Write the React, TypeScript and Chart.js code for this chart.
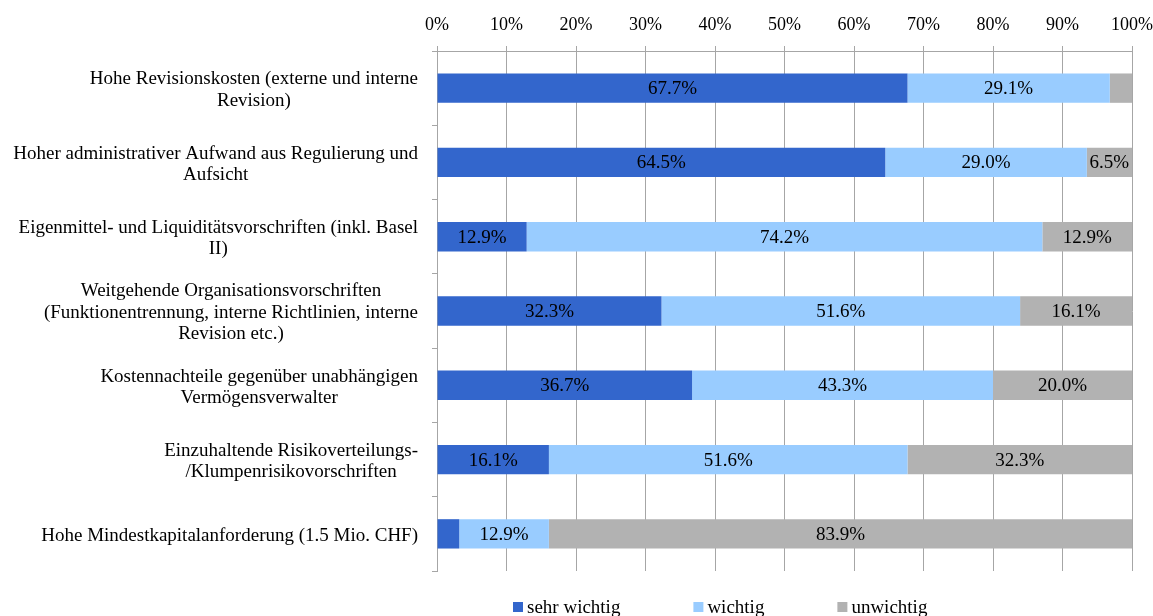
import React, { useEffect, useRef } from "react";
import { Chart, registerables } from "chart.js";

Chart.register(...registerables);

const categories: string[][] = [
  ["Hohe Revisionskosten (externe und interne", "Revision)"],
  ["Hoher administrativer Aufwand aus Regulierung und", "Aufsicht"],
  ["Eigenmittel- und Liquiditätsvorschriften (inkl. Basel", "II)"],
  ["Weitgehende Organisationsvorschriften", "(Funktionentrennung, interne Richtlinien, interne", "Revision etc.)"],
  ["Kostennachteile gegenüber unabhängigen", "Vermögensverwalter"],
  ["Einzuhaltende Risikoverteilungs-", "/Klumpenrisikovorschriften"],
  ["Hohe Mindestkapitalanforderung (1.5 Mio. CHF)"],
];

const seriesNames = ["sehr wichtig", "wichtig", "unwichtig"];
const sehrWichtig = [67.7, 64.5, 12.9, 32.3, 36.7, 16.1, 3.2];
const wichtig = [29.1, 29.0, 74.2, 51.6, 43.3, 51.6, 12.9];
const unwichtig = [3.2, 6.5, 12.9, 16.1, 20.0, 32.3, 83.9];
const seriesColors = ["#3366CC", "#99CCFF", "#B2B2B2"];
const xTicks = [0, 10, 20, 30, 40, 50, 60, 70, 80, 90, 100];

const FONT_FAMILY = "'Liberation Serif', 'Times New Roman', serif";
const TICK_SIZE = 18;
const TEXT_SIZE = 19;
const GRID = "#A6A6A6";

const customPlugin = {
  id: "customDraw",
  afterDatasetsDraw(chart: any) {
    const ctx = chart.ctx;
    ctx.save();
    ctx.font = `${TEXT_SIZE}px ${FONT_FAMILY}`;
    ctx.fillStyle = "#000";
    ctx.textAlign = "center";
    ctx.textBaseline = "middle";
    chart.data.datasets.forEach((ds: any, di: number) => {
      const meta = chart.getDatasetMeta(di);
      meta.data.forEach((bar: any, i: number) => {
        const v = ds.data[i];
        if (v < 5) return;
        const cx = (bar.x + bar.base) / 2;
        ctx.fillText(v.toFixed(1) + "%", cx, bar.y + 1);
      });
    });
    ctx.restore();
  },
  afterDraw(chart: any) {
    const ctx = chart.ctx;
    const area = chart.chartArea;
    const yScale = chart.scales.y;
    ctx.save();
    ctx.font = `${TEXT_SIZE}px ${FONT_FAMILY}`;
    ctx.fillStyle = "#000";
    ctx.textAlign = "center";
    ctx.textBaseline = "middle";
    const lh = 21.5;
    const rightEdge = area.left - 19;
    categories.forEach((lines, i) => {
      const cy = yScale.getPixelForValue(i);
      let w = 0;
      lines.forEach((l) => {
        w = Math.max(w, ctx.measureText(l).width);
      });
      const cx = rightEdge - w / 2;
      const y0 = cy - ((lines.length - 1) * lh) / 2;
      lines.forEach((l, k) => ctx.fillText(l, cx, y0 + k * lh + 2));
    });

    // legend
    ctx.textAlign = "left";
    ctx.textBaseline = "alphabetic";
    let x = area.left + 76;
    const boxTop = area.bottom + 31;
    seriesNames.forEach((name, i) => {
      ctx.fillStyle = seriesColors[i];
      ctx.fillRect(x, boxTop, 10, 10);
      ctx.fillStyle = "#000";
      ctx.fillText(name, x + 14, boxTop + 11);
      x += 14 + ctx.measureText(name).width + 73;
    });
    ctx.restore();
  },
};

export default function App() {
  const ref = useRef<HTMLCanvasElement>(null);
  useEffect(() => {
    if (!ref.current) return;
    const values = [sehrWichtig, wichtig, unwichtig];
    const chart = new Chart(ref.current, {
      type: "bar",
      data: {
        labels: categories as any,
        datasets: seriesNames.map((name, i) => ({
          label: name,
          data: values[i],
          backgroundColor: seriesColors[i],
          borderWidth: 0,
          barPercentage: 0.395,
          categoryPercentage: 1,
        })),
      },
      options: {
        indexAxis: "y",
        animation: false,
        responsive: true,
        maintainAspectRatio: false,
        layout: { padding: { left: 432, right: 0, top: 0, bottom: 45 } },
        plugins: {
          legend: { display: false },
          tooltip: { enabled: false },
        },
        scales: {
          x: {
            position: "top",
            stacked: true,
            min: 0,
            max: 100,
            afterBuildTicks: (scale: any) => {
              scale.ticks = xTicks.map((v) => ({ value: v }));
            },
            afterFit: (scale: any) => {
              scale.height = 51;
              scale.paddingLeft = 0;
              scale.paddingRight = 21;
            },
            ticks: {
              callback: (v: any) => v + "%",
              color: "#000",
              font: { family: FONT_FAMILY, size: TICK_SIZE },
              padding: 10,
              maxRotation: 0,
              autoSkip: false,
            },
            grid: { color: GRID, lineWidth: 1, tickLength: 5, drawTicks: true },
            border: { display: true, color: GRID, width: 1 },
          },
          y: {
            stacked: true,
            ticks: { display: false },
            grid: {
              offset: true,
              drawOnChartArea: false,
              drawTicks: true,
              tickLength: 5,
              color: GRID,
            },
            border: { display: true, color: GRID, width: 1 },
          },
        },
      },
      plugins: [customPlugin],
    });
    return () => chart.destroy();
  }, []);
  return (
    <div style={{ position: "absolute", left: 0, top: 0, width: 1153, height: 616, background: "#fff" }}>
      <canvas ref={ref} />
    </div>
  );
}
